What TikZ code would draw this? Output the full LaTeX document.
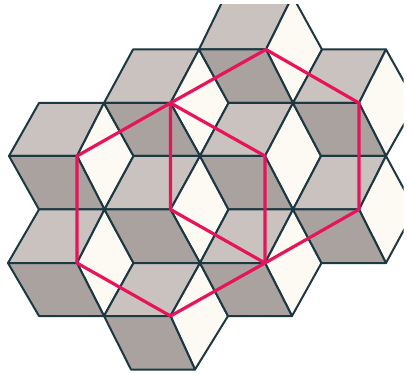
\documentclass[tikz,border=0pt]{standalone}
\definecolor{lightg}{RGB}{202,194,191}
\definecolor{darkg}{RGB}{169,162,159}
\definecolor{creamc}{RGB}{252,250,242}
\definecolor{edgec}{RGB}{28,56,66}
\definecolor{pinkc}{RGB}{230,21,91}
\tikzset{
  tile/.style={draw=edgec, line width=2pt, line join=round},
  lt/.style={tile, fill=lightg},
  dk/.style={tile, fill=darkg},
  cr/.style={tile, fill=creamc},
  pinkline/.style={draw=pinkc, line width=3.2pt, line join=round, line cap=round}
}
\begin{document}
\begin{tikzpicture}[x=1pt,y=-1pt]
\useasboundingbox (0,0) rectangle (407,374);
% row -1
\coordinate (T1) at (225,-4);   \coordinate (T2) at (292.5,-4);
% row 0
\coordinate (A1) at (133,49.5); \coordinate (A2) at (199,49.5); \coordinate (A3) at (266,49.5);
\coordinate (A4) at (322,49.5); \coordinate (A5) at (386,49.5);
% row 1
\coordinate (B1) at (39,103);   \coordinate (B2) at (104,103);  \coordinate (B3) at (170.5,103);
\coordinate (B4) at (228.5,103);\coordinate (B5) at (293,103);  \coordinate (B6) at (359,103);
\coordinate (B7) at (416,103);
% row 2
\coordinate (C1) at (9,156);    \coordinate (C2) at (77,156);   \coordinate (C3) at (133.5,156);
\coordinate (C4) at (200,156);  \coordinate (C5) at (265,156);  \coordinate (C6) at (321,156);
\coordinate (C7) at (386,156);
% row 3
\coordinate (D1) at (39,209.5); \coordinate (D2) at (104.5,209.5); \coordinate (D3) at (170.5,209.5);
\coordinate (D4) at (228.5,209.5); \coordinate (D5) at (293,209.5); \coordinate (D6) at (359,209.5);
\coordinate (D7) at (415,209.5);
% row 4
\coordinate (E1) at (8,263);    \coordinate (E2) at (77,263);   \coordinate (E3) at (133.5,263);
\coordinate (E4) at (200,263);  \coordinate (E5) at (265,263);  \coordinate (E6) at (321.5,263);
\coordinate (E7) at (386,263);
% row 5
\coordinate (F1) at (39,316);   \coordinate (F2) at (104,316);  \coordinate (F3) at (170.5,316);
\coordinate (F4) at (228,316);  \coordinate (F5) at (292,316);
% row 6
\coordinate (G1) at (131,369.5);\coordinate (G2) at (195,369.5);

\begin{scope}
\clip (0,5) rectangle (403.5,374);
% strip -1 -> 0
\path[lt] (T1) -- (T2) -- (A3) -- (A2) -- cycle;
\path[cr] (T2) -- (A4) -- (B5) -- (A3) -- cycle;
% strip 0 -> 1
\path[lt] (A1) -- (A2) -- (B3) -- (B2) -- cycle;
\path[cr] (A2) -- (B4) -- (C4) -- (B3) -- cycle;
\path[dk] (A2) -- (A3) -- (B5) -- (B4) -- cycle;
\path[lt] (A4) -- (A5) -- (B6) -- (B5) -- cycle;
\path[cr] (A5) -- (B7) -- (C7) -- (B6) -- cycle;
% strip 1 -> 2
\path[lt] (B1) -- (B2) -- (C2) -- (C1) -- cycle;
\path[cr] (B2) -- (C3) -- (D2) -- (C2) -- cycle;
\path[dk] (B2) -- (B3) -- (C4) -- (C3) -- cycle;
\path[lt] (B4) -- (B5) -- (C5) -- (C4) -- cycle;
\path[cr] (B5) -- (C6) -- (D5) -- (C5) -- cycle;
\path[dk] (B5) -- (B6) -- (C7) -- (C6) -- cycle;
% strip 2 -> 3
\path[dk] (C1) -- (C2) -- (D2) -- (D1) -- cycle;
\path[lt] (C3) -- (C4) -- (D3) -- (D2) -- cycle;
\path[cr] (C4) -- (D4) -- (E4) -- (D3) -- cycle;
\path[dk] (C4) -- (C5) -- (D5) -- (D4) -- cycle;
\path[lt] (C6) -- (C7) -- (D6) -- (D5) -- cycle;
\path[cr] (C7) -- (D7) -- (E7) -- (D6) -- cycle;
% strip 3 -> 4
\path[lt] (D1) -- (D2) -- (E2) -- (E1) -- cycle;
\path[cr] (D2) -- (E3) -- (F2) -- (E2) -- cycle;
\path[dk] (D2) -- (D3) -- (E4) -- (E3) -- cycle;
\path[lt] (D4) -- (D5) -- (E5) -- (E4) -- cycle;
\path[cr] (D5) -- (E6) -- (F5) -- (E5) -- cycle;
\path[dk] (D5) -- (D6) -- (E7) -- (E6) -- cycle;
% strip 4 -> 5
\path[dk] (E1) -- (E2) -- (F2) -- (F1) -- cycle;
\path[lt] (E3) -- (E4) -- (F3) -- (F2) -- cycle;
\path[cr] (E4) -- (F4) -- (G2) -- (F3) -- cycle;
\path[dk] (E4) -- (E5) -- (F5) -- (F4) -- cycle;
% strip 5 -> 6
\path[dk] (F2) -- (F3) -- (G2) -- (G1) -- cycle;
\end{scope}

% pink overlay
\path[pinkline] (C2) -- (B3) -- (A3) -- (B6) -- (D6) -- (E5) -- (F3) -- (E2) -- cycle;
\path[pinkline] (B3) -- (C5) -- (E5);
\path[pinkline] (B3) -- (D3) -- (E5);
\end{tikzpicture}
\end{document}
